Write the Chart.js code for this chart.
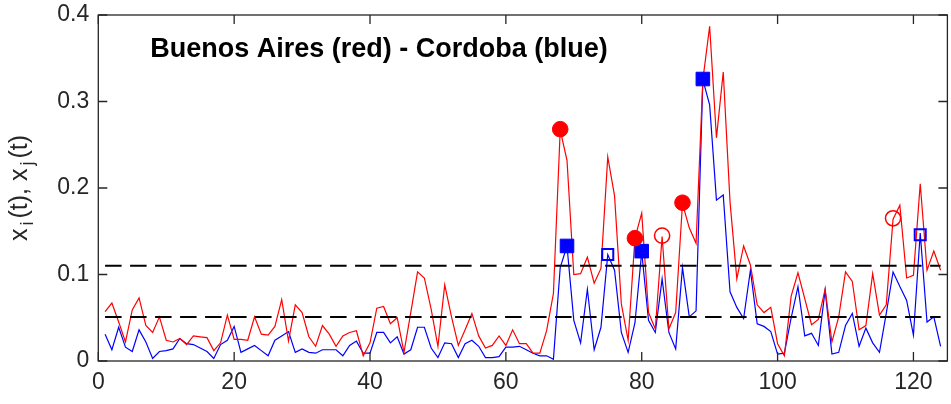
<!DOCTYPE html>
<html><head><meta charset="utf-8">
<script src="https://cdn.jsdelivr.net/npm/chart.js@4.4.1/dist/chart.umd.min.js"></script>
<style>html,body{margin:0;padding:0;background:#fff;overflow:hidden;width:951px;height:404px}canvas{display:block}</style>
</head><body>
<canvas id="c" width="958" height="404"></canvas>
<script>
const xTicks = [0, 20, 40, 60, 80, 100, 120];
const yTicks = [0, 0.1, 0.2, 0.3, 0.4];
const titleText = 'Buenos Aires (red) - Cordoba (blue)';

// x_i(t): Buenos Aires, t = 1..124
const buenosAires = [
0.057,0.067,0.045,0.022,0.059,0.073,0.041,0.033,0.051,0.024,
0.022,0.026,0.019,0.029,0.028,0.027,0.012,0.021,0.053,0.025,
0.025,0.024,0.051,0.031,0.030,0.040,0.071,0.023,0.065,0.056,
0.028,0.017,0.041,0.031,0.017,0.029,0.033,0.035,0.006,0.021,
0.061,0.063,0.043,0.050,0.010,0.056,0.103,0.096,0.060,0.017,
0.088,0.051,0.018,0.036,0.055,0.029,0.015,0.018,0.029,0.018,
0.036,0.020,0.020,0.009,0.009,0.035,0.078,0.267,0.232,0.100,
0.101,0.120,0.090,0.107,0.236,0.191,0.066,0.024,0.142,0.171,
0.056,0.037,0.144,0.037,0.056,0.182,0.154,0.136,0.325,0.387,
0.258,0.334,0.184,0.095,0.133,0.111,0.065,0.056,0.062,0.020,
0.006,0.075,0.102,0.072,0.042,0.048,0.083,0.022,0.051,0.103,
0.092,0.036,0.041,0.101,0.053,0.065,0.164,0.180,0.096,0.099,
0.205,0.105,0.127,0.105];

// x_j(t): Cordoba, t = 1..124
const cordoba = [
0.031,0.013,0.039,0.016,0.011,0.036,0.022,0.003,0.011,0.012,
0.014,0.026,0.020,0.019,0.015,0.011,0.003,0.019,0.024,0.040,
0.010,0.014,0.018,0.012,0.006,0.024,0.029,0.034,0.010,0.014,
0.010,0.009,0.013,0.013,0.013,0.006,0.018,0.023,0.009,0.009,
0.033,0.033,0.021,0.028,0.008,0.013,0.039,0.039,0.015,0.004,
0.021,0.020,0.004,0.020,0.024,0.017,0.004,0.004,0.005,0.016,
0.016,0.017,0.013,0.009,0.006,0.006,0.002,0.108,0.133,0.047,
0.021,0.083,0.013,0.039,0.123,0.105,0.033,0.010,0.044,0.126,
0.047,0.033,0.095,0.033,0.014,0.108,0.051,0.058,0.325,0.296,
0.186,0.192,0.080,0.062,0.049,0.105,0.043,0.040,0.034,0.008,
0.009,0.050,0.086,0.029,0.032,0.018,0.082,0.008,0.010,0.041,
0.055,0.017,0.038,0.021,0.010,0.055,0.103,0.086,0.070,0.030,
0.148,0.045,0.051,0.017];

const thresholdHigh = 0.110;
const thresholdLow = 0.051;
const thresholdStart = 1;
const thresholdEnd = 124;

const redFilledT = [68, 79, 86];
const redFilledV = [0.268, 0.142, 0.183];
const redOpenT = [83, 117];
const redOpenV = [0.145, 0.165];
const blueFilledT = [69, 80, 89];
const blueFilledV = [0.133, 0.127, 0.326];
const blueOpenT = [75, 121];
const blueOpenV = [0.123, 0.146];

const toPts = arr => arr.map((v, i) => ({x: i + 1, y: v}));
const zipPts = (ts, vs) => ts.map((t, i) => ({x: t, y: vs[i]}));

const AX = '#262626';
const FONT = '"Liberation Sans", Arial, Helvetica, sans-serif';

const framePlugin = {
  id: 'frame',
  afterDraw(chart) {
    const {ctx, chartArea: a, scales: {x, y}} = chart;
    ctx.save();
    ctx.strokeStyle = AX;
    ctx.lineWidth = 1.3;
    ctx.strokeRect(a.left, a.top, a.right - a.left, a.bottom - a.top);
    ctx.beginPath();
    const L = 9;
    xTicks.forEach(v => {
      const p = x.getPixelForValue(v);
      ctx.moveTo(p, a.bottom); ctx.lineTo(p, a.bottom - L);
      ctx.moveTo(p, a.top); ctx.lineTo(p, a.top + L);
    });
    yTicks.forEach(v => {
      const p = y.getPixelForValue(v);
      ctx.moveTo(a.left, p); ctx.lineTo(a.left + L, p);
      ctx.moveTo(a.right, p); ctx.lineTo(a.right - L, p);
    });
    ctx.stroke();

    // title inside axes
    ctx.fillStyle = '#000';
    ctx.font = 'bold 27px ' + FONT;
    ctx.textAlign = 'left';
    ctx.textBaseline = 'alphabetic';
    ctx.fillText(titleText, a.left + 52, 57);

    // y label with subscripts
    ctx.translate(27, (a.top + a.bottom) / 2);
    ctx.rotate(-Math.PI / 2);
    ctx.fillStyle = AX;
    const main = '25px ' + FONT, sub = '18px ' + FONT;
    const parts = [['x', main, 0], ['i', sub, 6], ['(t), x', main, 0], ['j', sub, 6], ['(t)', main, 0]];
    const gap = 3;
    let total = 0;
    parts.forEach(p => { ctx.font = p[1]; total += ctx.measureText(p[0]).width + (p[1] === sub ? 2 * gap : 0); });
    let cx = -total / 2;
    parts.forEach(p => {
      ctx.font = p[1];
      const g = p[1] === sub ? gap : 0;
      ctx.fillText(p[0], cx + g, p[2]);
      cx += ctx.measureText(p[0]).width + 2 * g;
    });
    ctx.restore();
  }
};

new Chart(document.getElementById('c'), {
  type: 'scatter',
  data: {
    datasets: [
      {label: 'hi', data: [{x: thresholdStart, y: thresholdHigh}, {x: thresholdEnd, y: thresholdHigh}], showLine: true, borderColor: '#000', borderWidth: 2, borderDash: [16.5, 8.5], pointRadius: 0, order: 0},
      {label: 'lo', data: [{x: thresholdStart, y: thresholdLow}, {x: thresholdEnd, y: thresholdLow}], showLine: true, borderColor: '#000', borderWidth: 2, borderDash: [16.5, 8.5], pointRadius: 0, order: 0},
      {label: 'rf', data: zipPts(redFilledT, redFilledV), pointStyle: 'circle', pointRadius: 7.8, backgroundColor: '#ff0000', borderColor: '#ff0000', borderWidth: 1, order: 1},
      {label: 'ro', data: zipPts(redOpenT, redOpenV), pointStyle: 'circle', pointRadius: 7.6, backgroundColor: 'rgba(0,0,0,0)', borderColor: '#ff0000', borderWidth: 1.5, order: 1},
      {label: 'bf', data: zipPts(blueFilledT, blueFilledV), pointStyle: 'rect', pointRadius: 9.6, backgroundColor: '#0000ff', borderColor: '#0000ff', borderWidth: 1, order: 1},
      {label: 'bo', data: zipPts(blueOpenT, blueOpenV), pointStyle: 'rect', pointRadius: 7.8, backgroundColor: 'rgba(0,0,0,0)', borderColor: '#0000ff', borderWidth: 2, order: 1},
      {label: 'Buenos Aires', data: toPts(buenosAires), showLine: true, borderColor: '#ff0000', borderWidth: 1.2, pointRadius: 0, order: 2},
      {label: 'Cordoba', data: toPts(cordoba), showLine: true, borderColor: '#0000ff', borderWidth: 1.2, pointRadius: 0, order: 3}
    ]
  },
  options: {
    responsive: false,
    devicePixelRatio: 1,
    animation: false,
    layout: {padding: {top: 15, right: 4.5, left: 0, bottom: 0}},
    plugins: {legend: {display: false}, tooltip: {enabled: false}},
    scales: {
      x: {
        type: 'linear', min: 0, max: 125,
        afterBuildTicks: s => { s.ticks = xTicks.map(v => ({value: v})); },
        afterFit: s => { s.height = 43; s.paddingLeft = 0; s.paddingRight = 0; },
        grid: {display: false, drawTicks: false},
        border: {display: false},
        ticks: {color: AX, font: {family: FONT, size: 23}, padding: 8, maxRotation: 0, callback: v => String(v)}
      },
      y: {
        type: 'linear', min: 0, max: 0.4,
        afterBuildTicks: s => { s.ticks = yTicks.map(v => ({value: v})); },
        afterFit: s => { s.width = 98.3; s.paddingTop = 0; s.paddingBottom = 0; },
        grid: {display: false, drawTicks: false},
        border: {display: false},
        ticks: {color: AX, font: {family: FONT, size: 23}, padding: 9, callback: v => String(Math.round(v * 10) / 10)}
      }
    }
  },
  plugins: [framePlugin]
});
</script>
</body></html>
